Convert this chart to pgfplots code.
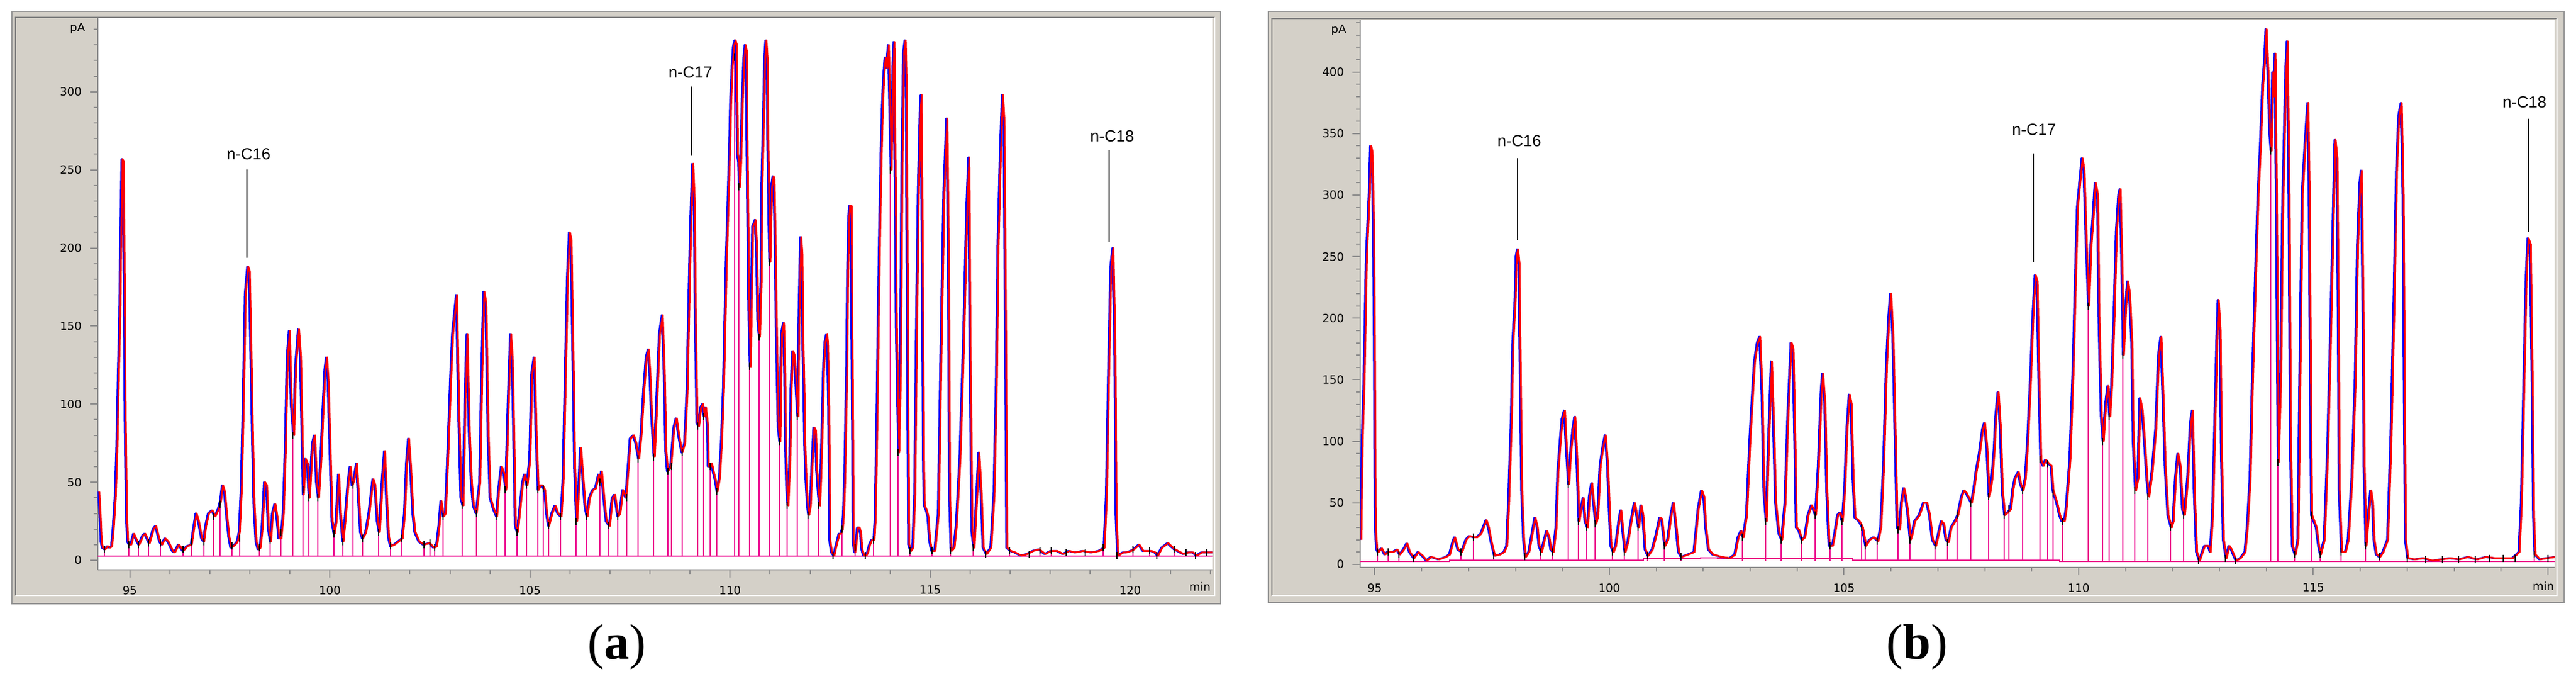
\documentclass[border=0pt]{standalone}
\usepackage{fontspec}
\setmainfont{Liberation Serif}
\newfontfamily\dejavu{DejaVu Sans}
\newfontfamily\libsans{Liberation Sans}
\usepackage{pgfplots}
\usepackage{pgfplotstable}
\pgfplotsset{compat=1.18}
\newlength\px \setlength\px{0.25pt}
\newcommand\tickfont{\dejavu\fontsize{4.75}{5}\selectfont}
\newcommand\labfont{\libsans\fontsize{6.75}{7}\selectfont}
\definecolor{wgray}{RGB}{212,208,200}
\definecolor{dgray}{RGB}{128,128,128}
\definecolor{axgray}{RGB}{140,140,140}
\definecolor{ogray}{RGB}{150,150,150}

\pgfplotstableread{
x y
94.21 44
94.24 30
94.27 12
94.30 8
94.36 7
94.42 9
94.48 8
94.53 9
94.57 20
94.62 40
94.66 70
94.70 120
94.73 150
94.76 210
94.79 257
94.82 255
94.84 200
94.87 90
94.90 30
94.93 12
94.97 10
95.01 10
95.08 17
95.13 14
95.21 10
95.31 16
95.36 17
95.47 11
95.57 20
95.63 22
95.73 12
95.78 10
95.86 14
95.94 12
96.05 6
96.10 5
96.20 10
96.26 8
96.31 6
96.41 9
96.52 10
96.59 22
96.64 30
96.70 25
96.78 14
96.83 12
96.88 22
96.95 30
97.04 32
97.11 28
97.20 33
97.25 38
97.30 48
97.35 44
97.40 30
97.46 15
97.51 8
97.56 9
97.61 10
97.67 12
97.72 18
97.77 45
97.82 100
97.87 170
97.93 188
97.97 185
98.01 135
98.05 80
98.09 35
98.14 12
98.19 7
98.24 8
98.29 20
98.35 50
98.40 48
98.45 20
98.50 12
98.55 30
98.61 36
98.66 28
98.71 14
98.76 14
98.82 30
98.87 70
98.92 130
98.97 147
99.02 100
99.08 80
99.13 125
99.20 148
99.25 130
99.29 80
99.32 42
99.37 65
99.42 62
99.47 40
99.55 75
99.60 80
99.65 50
99.70 40
99.76 65
99.81 95
99.86 122
99.90 130
99.94 115
99.99 70
100.04 25
100.09 17
100.14 25
100.20 55
100.25 30
100.31 12
100.36 25
100.44 50
100.49 60
100.54 48
100.59 52
100.65 62
100.70 40
100.75 18
100.80 14
100.88 18
100.96 30
101.06 52
101.11 48
101.17 25
101.22 18
101.29 50
101.35 70
101.40 40
101.45 15
101.50 9
101.59 10
101.69 12
101.79 14
101.85 30
101.90 62
101.95 78
102.00 60
102.06 30
102.11 18
102.21 12
102.32 10
102.47 11
102.58 8
102.65 9
102.71 22
102.76 38
102.82 28
102.87 30
102.92 60
103.00 115
103.05 145
103.10 158
103.15 170
103.20 100
103.26 40
103.31 35
103.36 100
103.41 145
103.47 80
103.52 50
103.57 35
103.64 30
103.73 50
103.78 120
103.83 172
103.88 165
103.94 80
103.99 40
104.07 33
104.15 28
104.20 45
104.27 60
104.34 55
104.38 45
104.44 100
104.50 145
104.54 130
104.58 80
104.62 22
104.67 18
104.72 30
104.80 50
104.85 55
104.91 48
104.98 65
105.03 120
105.09 130
105.14 80
105.19 45
105.24 48
105.29 48
105.35 45
105.40 30
105.45 22
105.53 30
105.61 35
105.68 30
105.76 28
105.81 50
105.87 120
105.92 180
105.97 210
106.01 205
106.06 130
106.10 60
106.15 25
106.20 45
106.25 72
106.30 55
106.36 35
106.41 28
106.47 40
106.55 45
106.62 46
106.70 55
106.74 50
106.77 57
106.83 40
106.89 25
106.97 22
107.04 40
107.10 42
107.18 28
107.23 30
107.30 45
107.38 40
107.44 60
107.49 78
107.57 80
107.63 75
107.70 65
107.76 80
107.83 110
107.89 130
107.94 135
107.98 120
108.02 95
108.09 66
108.15 100
108.22 145
108.29 157
108.34 120
108.38 70
108.42 57
108.50 60
108.58 85
108.64 91
108.70 80
108.78 69
108.85 75
108.91 108
108.96 170
109.00 215
109.05 254
109.09 230
109.12 150
109.16 88
109.20 86
109.25 98
109.30 100
109.34 92
109.37 98
109.42 87
109.44 60
109.49 60
109.52 62
109.57 56
109.62 51
109.66 44
109.72 53
109.77 76
109.82 110
109.85 145
109.89 191
109.93 225
109.97 260
110.00 294
110.04 317
110.07 329
110.11 333
110.14 330
110.15 305
110.17 260
110.20 255
110.22 239
110.25 255
110.29 294
110.33 321
110.36 330
110.39 326
110.41 264
110.44 191
110.46 154
110.49 124
110.52 173
110.55 214
110.59 216
110.61 218
110.64 205
110.66 184
110.68 154
110.72 143
110.76 179
110.78 241
110.82 282
110.85 321
110.88 333
110.91 321
110.93 269
110.96 214
110.98 191
111.02 239
111.06 246
111.08 244
111.11 207
111.13 168
111.16 122
111.19 85
111.23 76
111.27 145
111.32 152
111.35 122
111.37 76
111.40 47
111.43 35
111.48 65
111.51 110
111.55 134
111.59 131
111.63 113
111.65 104
111.68 92
111.70 145
111.73 184
111.75 207
111.78 196
111.80 145
111.83 110
111.85 76
111.88 53
111.92 35
111.95 29
111.99 35
112.04 65
112.08 85
112.12 83
112.15 58
112.19 44
112.22 35
112.25 53
112.29 88
112.32 122
112.36 140
112.40 145
112.42 138
112.45 99
112.46 65
112.48 12
112.52 5
112.58 3
112.62 8
112.66 12
112.71 17
112.75 17
112.79 20
112.82 30
112.85 53
112.87 81
112.90 122
112.92 177
112.95 218
112.97 227
113.01 227
113.03 145
113.05 76
113.06 12
113.10 5
113.12 8
113.17 21
113.21 21
113.25 17
113.27 8
113.32 3
113.38 3
113.42 5
113.47 10
113.52 13
113.58 13
113.61 26
113.63 53
113.66 99
113.69 156
113.72 207
113.76 260
113.79 289
113.82 308
113.86 322
113.90 315
113.94 330
113.97 300
114.01 250
114.05 310
114.08 332
114.11 250
114.14 150
114.20 69
114.24 120
114.28 250
114.32 325
114.36 333
114.39 300
114.42 130
114.45 10
114.50 6
114.55 8
114.60 42
114.64 140
114.69 237
114.74 290
114.76 298
114.79 188
114.82 60
114.84 35
114.89 32
114.93 28
114.97 13
115.02 6
115.10 6
115.19 30
115.26 140
115.33 237
115.40 283
115.44 200
115.47 42
115.51 6
115.58 8
115.64 23
115.73 66
115.82 140
115.90 225
115.95 258
115.98 140
116.03 18
116.08 8
116.15 42
116.20 69
116.26 42
116.31 8
116.39 4
116.50 8
116.58 42
116.64 115
116.68 200
116.74 261
116.79 298
116.83 281
116.87 140
116.90 8
116.99 6
117.10 5
117.25 3
117.40 4
117.55 6
117.70 7
117.85 4
118.00 6
118.15 6
118.30 4
118.45 6
118.60 5
118.80 6
119.00 5
119.20 6
119.33 8
119.39 42
119.44 115
119.50 188
119.55 200
119.60 140
119.63 30
119.67 3
119.80 5
119.88 5
120.00 6
120.07 7
120.20 10
120.30 6
120.50 6
120.60 5
120.67 3
120.77 8
120.92 11
121.00 9
121.09 7
121.31 4
121.42 5
121.55 5
121.64 3
121.76 5
122.05 5
}\dataA

\pgfplotstableread{
x y e
94.36 7 4.5
94.97 10 7.5
95.21 10 7.5
95.47 11 8.5
95.76 11 8.5
96.33 7 4.5
96.54 12 9.5
96.85 12 9.5
97.09 28 25.5
97.25 36 33.5
97.56 9 6.5
97.74 14 11.5
98.24 8 5.5
98.51 13 10.5
98.78 18 15.5
99.08 80 77.5
99.33 45 42.5
99.48 40 37.5
99.70 40 37.5
100.10 17 14.5
100.32 12 9.5
100.58 48 45.5
100.82 14 11.5
101.22 18 15.5
101.51 9 6.5
101.80 14 11.5
102.35 10 7.5
102.50 11 8.5
102.62 8 5.5
102.83 28 25.5
103.30 35 32.5
103.66 30 27.5
104.15 28 25.5
104.38 45 42.5
104.68 18 15.5
104.92 48 45.5
105.19 45 42.5
105.33 46 43.5
105.47 22 19.5
105.76 28 25.5
106.15 25 22.5
106.42 28 25.5
106.74 50 47.5
106.97 22 19.5
107.19 28 25.5
107.41 40 37.5
107.70 65 62.5
108.09 66 63.5
108.44 57 54.5
108.53 60 57.5
108.80 69 66.5
109.19 86 83.5
109.34 92 89.5
109.51 60 57.5
109.66 44 41.5
110.11 322 319.5
110.22 239 236.5
110.49 124 121.5
110.72 143 140.5
110.98 191 188.5
111.23 76 73.5
111.43 35 32.5
111.68 92 89.5
111.95 29 26.5
112.22 35 32.5
112.79 20 17.5
113.58 13 10.5
114.01 250 247.5
114.20 69 66.5
112.58 3 0.5
113.12 8 5.5
113.38 3 0.5
114.50 6 3.5
115.05 6 3.5
115.51 6 3.5
116.08 8 5.5
116.39 4 1.5
116.99 6 3.5
117.48 4 1.5
117.75 6 3.5
118.02 6 3.5
118.40 5 2.5
118.88 5 2.5
119.33 8 5.5
119.67 3 0.5
120.07 7 4.5
120.48 6 3.5
120.67 3 0.5
121.09 7 4.5
121.40 5 2.5
121.64 3 0.5
121.90 5 2.5
}\valA

\pgfplotstableread{
x y
94.69 20
94.72 100
94.76 150
94.81 250
94.87 300
94.90 340
94.93 335
94.96 280
94.98 180
95.00 30
95.03 12
95.06 10
95.13 13
95.20 8
95.26 10
95.37 10
95.46 12
95.52 8
95.60 12
95.67 17
95.73 10
95.82 5
95.91 10
96.00 7
96.09 3
96.18 6
96.27 5
96.35 4
96.50 6
96.58 8
96.65 18
96.69 22
96.76 12
96.84 10
96.93 20
97.00 23
97.09 22
97.16 22
97.25 25
97.32 32
97.36 36
97.41 30
97.47 18
97.54 7
97.65 8
97.74 10
97.80 15
97.84 50
97.90 120
97.93 180
97.98 215
98.00 250
98.03 256
98.06 245
98.09 150
98.12 60
98.16 20
98.20 6
98.27 10
98.34 25
98.40 38
98.45 30
98.49 15
98.54 10
98.60 20
98.65 27
98.70 22
98.74 12
98.79 10
98.85 30
98.89 75
98.94 100
98.98 118
99.03 125
99.07 95
99.12 65
99.16 90
99.21 110
99.25 120
99.30 80
99.34 35
99.38 45
99.43 54
99.47 35
99.52 30
99.56 55
99.61 66
99.65 50
99.70 33
99.74 40
99.79 80
99.86 98
99.90 105
99.95 80
99.98 50
100.02 15
100.07 10
100.12 15
100.19 35
100.23 44
100.28 25
100.32 10
100.38 18
100.45 35
100.52 50
100.57 40
100.61 30
100.66 48
100.70 40
100.75 12
100.81 7
100.90 12
100.99 25
101.06 38
101.10 37
101.17 15
101.23 20
101.30 40
101.35 50
101.41 30
101.46 10
101.52 6
101.66 8
101.79 10
101.88 45
101.95 60
102.00 55
102.04 30
102.10 12
102.19 8
102.37 6
102.55 5
102.66 8
102.73 22
102.79 27
102.84 22
102.91 40
102.98 100
103.04 140
103.08 165
103.14 180
103.19 185
103.24 140
103.28 60
103.33 35
103.38 100
103.44 165
103.48 120
103.53 50
103.60 25
103.66 20
103.73 50
103.79 120
103.86 180
103.90 175
103.94 100
103.97 30
104.02 28
104.09 20
104.15 22
104.22 40
104.29 48
104.33 45
104.38 40
104.44 80
104.50 140
104.53 155
104.58 130
104.62 60
104.67 15
104.74 15
104.79 25
104.85 40
104.90 42
104.95 35
105.00 60
105.05 110
105.10 138
105.14 130
105.18 70
105.22 38
105.31 35
105.38 30
105.45 15
105.53 20
105.62 22
105.71 19
105.77 30
105.83 80
105.89 160
105.94 200
105.98 220
106.03 185
106.08 100
106.12 30
106.17 28
106.21 50
106.26 62
106.30 55
106.35 40
106.40 20
106.44 25
106.49 35
106.59 40
106.68 50
106.75 50
106.81 40
106.87 20
106.94 15
107.00 25
107.06 35
107.11 33
107.16 20
107.21 18
107.27 30
107.35 35
107.41 40
107.49 55
107.54 60
107.59 58
107.63 55
107.70 50
107.75 60
107.80 75
107.87 90
107.94 110
107.98 115
108.03 95
108.08 55
108.14 70
108.19 95
108.22 120
108.27 140
108.32 110
108.36 60
108.41 40
108.47 42
108.54 45
108.58 60
108.63 70
108.70 75
108.75 65
108.80 60
108.85 70
108.90 100
108.96 150
109.01 200
109.06 235
109.10 230
109.14 150
109.18 85
109.23 80
109.28 85
109.34 82
109.40 80
109.44 60
109.52 50
109.58 40
109.63 35
109.68 35
109.72 45
109.80 85
109.87 160
109.91 220
109.96 290
110.01 310
110.06 330
110.10 320
110.15 260
110.20 210
110.25 260
110.29 280
110.34 310
110.39 300
110.42 200
110.47 120
110.51 100
110.56 130
110.61 145
110.65 120
110.69 145
110.74 200
110.79 270
110.84 300
110.87 305
110.91 240
110.94 170
110.99 210
111.03 230
111.07 220
111.12 180
111.15 100
111.20 60
111.25 70
111.29 135
111.34 125
111.39 100
111.44 70
111.48 55
111.55 75
111.63 110
111.69 170
111.74 185
111.79 130
111.83 80
111.89 40
111.96 30
112.00 35
112.05 70
112.10 90
112.15 80
112.20 45
112.24 40
112.31 70
112.37 115
112.41 125
112.45 60
112.50 10
112.56 3
112.62 10
112.67 15
112.75 15
112.79 10
112.84 40
112.88 100
112.93 180
112.96 215
113.00 190
113.03 90
113.07 20
113.13 5
113.19 15
113.24 12
113.34 3
113.43 5
113.53 10
113.58 30
113.64 70
113.69 150
113.76 240
113.81 300
113.86 340
113.91 390
113.95 410
113.98 435
114.02 400
114.06 350
114.09 336
114.12 400
114.14 380
114.17 415
114.20 300
114.24 83
114.29 150
114.33 280
114.40 400
114.43 425
114.47 300
114.50 100
114.54 15
114.60 8
114.66 20
114.70 150
114.75 300
114.81 340
114.87 375
114.90 300
114.93 130
114.95 40
115.00 35
115.05 30
115.10 15
115.14 8
115.22 20
115.29 90
115.35 180
115.41 280
115.45 345
115.49 330
115.52 200
115.54 60
115.59 10
115.67 10
115.73 20
115.81 70
115.88 150
115.93 260
115.98 310
116.01 320
116.05 200
116.07 80
116.11 15
116.16 40
116.21 60
116.25 50
116.28 20
116.33 8
116.40 6
116.47 10
116.57 20
116.64 100
116.71 220
116.76 320
116.81 365
116.86 375
116.90 300
116.93 120
116.95 20
117.00 5
117.14 4
117.33 5
117.52 3
117.71 4
117.90 5
118.09 4
118.28 6
118.47 4
118.66 6
118.85 5
119.04 5
119.23 5
119.37 10
119.42 50
119.47 140
119.52 230
119.56 265
119.61 260
119.65 150
119.68 40
119.71 8
119.81 4
119.95 5
120.14 6
}\dataB

\pgfplotstableread{
x y e
95.06 10 7
95.29 10 7
95.52 8 5
95.82 5 2
96.84 10 7
97.11 22 19
97.54 7 4
98.20 6 3
98.54 10 7
98.79 10 7
99.12 65 62
99.34 35 32
99.52 30 27
99.70 33 30
100.07 10 7
100.32 10 7
100.61 30 27
100.81 7 4
101.17 15 12
101.52 6 3
102.84 22 19
103.33 35 32
103.66 20 17
104.09 20 17
104.38 40 37
104.70 15 12
104.95 35 32
105.38 30 27
105.45 15 12
105.71 19 16
106.15 28 25
106.40 20 17
106.94 15 12
107.21 18 15
107.41 40 37
107.70 50 47
108.08 55 52
108.41 40 37
108.52 45 42
108.80 60 57
109.18 85 82
109.34 82 79
109.46 58 55
109.66 35 32
110.20 210 207
110.51 100 97
110.65 120 117
110.94 170 167
111.20 60 57
111.48 55 52
111.96 30 27
112.24 40 37
114.09 336 333
114.24 83 80
114.95 40 37
112.56 3 0
113.13 5 2
113.34 3 0
114.60 8 5
115.14 8 5
115.59 10 7
116.11 15 12
116.40 6 3
117.00 5 2
117.40 4 1
117.75 4 1
118.10 4 1
118.45 4 1
118.75 5 2
119.05 5 2
119.30 5 2
119.71 8 5
120.00 5 2
}\valB

\pgfplotsset{
  chrom/.style={
    scale only axis, anchor=south west,
    axis x line*=bottom, axis y line*=left,
    axis line style={draw=axgray, line width=2\px},
    tick style={draw=axgray, line width=2\px},
    tick align=outside,
    major tick length=13\px, minor tick length=7\px,
    axis background/.style={fill=white},
    ticklabel style={font=\tickfont, text=black},
    xticklabel style={anchor=north},
    yticklabel style={anchor=east},
  },
  blueline/.style={color=blue, line width=3\px, line join=round, mark=none},
  redline/.style={color=red, line width=3\px, line join=round, mark=none, xshift=2\px},
}

\begin{document}
\begin{tikzpicture}
\path[use as bounding box] (0,0) rectangle (4320\px,1137\px);
% ---- frame (a)
\fill[wgray] (20\px,125\px) rectangle (2047\px,1118\px);
\draw[ogray, line width=2\px] (20\px,125\px) rectangle (2047\px,1118\px);
\draw[dgray, line width=2\px] (26\px,139\px) -- (26\px,1108\px) -- (2037\px,1108\px);
\draw[white, line width=2\px] (26\px,139\px) -- (2037\px,139\px) -- (2037\px,1108\px);
% ---- frame (b)
\fill[wgray] (2127\px,127\px) rectangle (4300\px,1118\px);
\draw[ogray, line width=2\px] (2127\px,127\px) rectangle (4300\px,1118\px);
\draw[dgray, line width=2\px] (2133\px,139\px) -- (2133\px,1106\px) -- (4288\px,1106\px);
\draw[white, line width=2\px] (2133\px,139\px) -- (4288\px,139\px) -- (4288\px,1106\px);

% ---- panel (a)
\begin{axis}[chrom,
  at={(164\px,182\px)}, width=1869\px, height=925\px,
  xmin=94.2, xmax=122.05, ymin=-6.1, ymax=347.3,
  xtick={95,100,105,110,115,120}, xticklabels={95,100,105,110,115,120},
  minor xtick={95,96,...,122},
  ytick={0,50,100,150,200,250,300}, yticklabels={0,50,100,150,200,250,300},
  minor ytick={10,20,...,340},
]
\addplot[magenta, line width=2\px, mark=none] coordinates {(94.2,2.5) (122.05,2.5)};
\addplot[draw=none, mark=none, error bars/.cd, y dir=minus, y explicit, error mark=none,
  error bar style={draw=magenta, line width=2\px}]
  table[x index=0, y index=1, y error minus index=2] {\valA};
\addplot[blueline] table[x index=0, y index=1] {\dataA};
\addplot[redline] table[x index=0, y index=1] {\dataA};
\addplot[black, only marks, mark=|, mark size=6\px, mark options={draw=black, line width=2\px}]
  table[x index=0, y index=1] {\valA};
\draw[black, line width=2\px] (axis cs:97.93,193.7) -- (axis cs:97.93,250.3);
\node[font=\labfont] at (axis cs:97.97,260.2) {n-C16};
\draw[black, line width=2\px] (axis cs:109.04,259) -- (axis cs:109.04,303.4);
\node[font=\labfont] at (axis cs:109.01,312.6) {n-C17};
\draw[black, line width=2\px] (axis cs:119.47,204) -- (axis cs:119.47,262.5);
\node[font=\labfont] at (axis cs:119.55,271.7) {n-C18};
\end{axis}
\node[font=\tickfont] at (130\px,1089\px) {pA};
\node[font=\tickfont, anchor=east, inner sep=0pt] at (2031\px,154\px) {min};

% ---- panel (b)
\begin{axis}[chrom,
  at={(2281\px,186\px)}, width=2003\px, height=918\px,
  xmin=94.69, xmax=120.14, ymin=-2.5, ymax=442.5,
  xtick={95,100,105,110,115,120}, xticklabels={95,100,105,110,115,{}},
  minor xtick={95,96,...,120},
  ytick={0,50,100,150,200,250,300,350,400}, yticklabels={0,50,100,150,200,250,300,350,400},
  minor ytick={10,20,...,440},
]
\addplot[magenta, line width=2\px, mark=none] coordinates {(94.69,2.2) (96.6,2.2) (96.6,3.4) (100.72,3.4) (100.72,4.6) (101.95,4.6) (101.95,5.3) (102.3,5.3) (102.3,4.6) (105.18,4.6) (105.18,3.4) (109.6,3.4) (109.6,2.2) (120.14,2.2)};
\addplot[draw=none, mark=none, error bars/.cd, y dir=minus, y explicit, error mark=none,
  error bar style={draw=magenta, line width=2\px}]
  table[x index=0, y index=1, y error minus index=2] {\valB};
\addplot[blueline] table[x index=0, y index=1] {\dataB};
\addplot[redline] table[x index=0, y index=1] {\dataB};
\addplot[black, only marks, mark=|, mark size=6\px, mark options={draw=black, line width=2\px}]
  table[x index=0, y index=1] {\valB};
\draw[black, line width=2\px] (axis cs:98.04,263.6) -- (axis cs:98.04,330);
\node[font=\labfont] at (axis cs:98.08,344) {n-C16};
\draw[black, line width=2\px] (axis cs:109.03,245.7) -- (axis cs:109.03,333.9);
\node[font=\labfont] at (axis cs:109.05,353.3) {n-C17};
\draw[black, line width=2\px] (axis cs:119.58,270) -- (axis cs:119.58,362);
\node[font=\labfont] at (axis cs:119.50,375.6) {n-C18};
\end{axis}
\node[font=\tickfont] at (2245\px,1086\px) {pA};
\node[font=\tickfont, anchor=east, inner sep=0pt] at (4284\px,155\px) {min};

% ---- captions
\node[font=\fontsize{21}{24}\selectfont, anchor=base] at (1034\px,33\px) {(\textbf{a})};
\node[font=\fontsize{21}{24}\selectfont, anchor=base] at (3215\px,33\px) {(\textbf{b})};
\end{tikzpicture}
\end{document}
